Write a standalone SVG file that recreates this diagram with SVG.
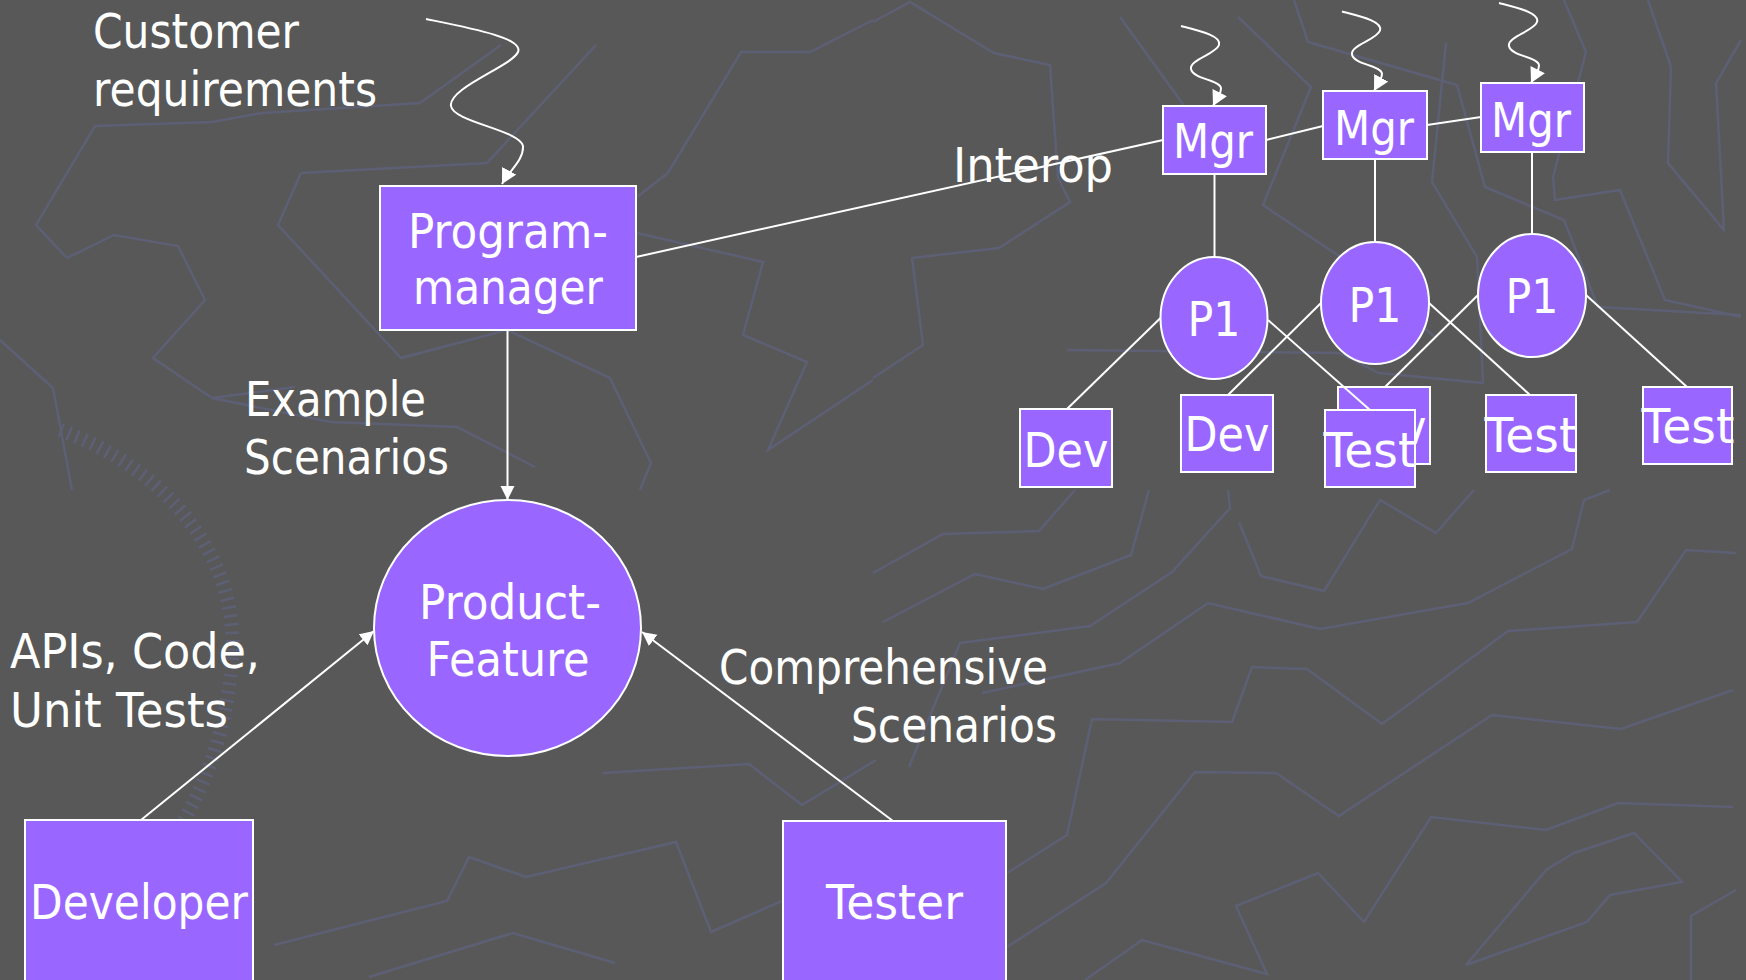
<svg xmlns="http://www.w3.org/2000/svg" width="1746" height="980" viewBox="0 0 1746 980">
<style>
.bg{fill:#585858}
.deco{fill:none;stroke:#5d6075;stroke-width:2.5;stroke-linejoin:miter}
.tick{fill:none;stroke:#5d6075;stroke-width:14;stroke-dasharray:2.5 6}
.box{fill:#9966FF;stroke:#FFFFFF;stroke-width:2}
.t{font-family:"DejaVu Sans","Verdana",sans-serif;font-size:48px;fill:#FFFFFF}
.m{text-anchor:middle}
.ln{fill:none;stroke:#FFFFFF;stroke-width:2}
</style>
<defs>
<marker id="ah" markerUnits="userSpaceOnUse" markerWidth="16" markerHeight="16" refX="14" refY="7" orient="auto">
<path d="M0,0 L14,7 L0,14 z" fill="#FFFFFF"/>
</marker>
<marker id="wh" markerUnits="userSpaceOnUse" markerWidth="18" markerHeight="18" refX="15" refY="8" orient="auto">
<path d="M0,0 L15,8 L0,16 z" fill="#FFFFFF"/>
</marker>
</defs>
<rect class="bg" x="0" y="0" width="1746" height="980"/>

<g id="background-pattern">
<polyline class="deco" points="67,258 36,225 95,126 212,122 262,113 420,103 501,45"/>
<polyline class="deco" points="67,258 114,235 178,246 205,300 153,358 212,398 295,387"/>
<polyline class="deco" points="301,173 487,163 596,45"/>
<polyline class="deco" points="301,173 278,225 401,358 507,330 610,378 651,463 640,490"/>
<polyline class="deco" points="873,20 810,52 741,52 668,173 637,197"/>
<polyline class="deco" points="637,233 763,262 743,335 807,362 768,450 873,380"/>
<polyline class="deco" points="0,340 53,388 72,490"/>
<polyline class="deco" points="212,398 331,422 457,427 535,467"/>
<polyline class="deco" points="873,22 910,2 994,53 1050,65 1058,178 1070,202 999,248 912,258 923,345 873,378"/>
<polyline class="deco" points="1120,17 1185,107"/>
<polyline class="deco" points="1238,17 1311,87 1263,205 1342,258 1435,337"/>
<polyline class="deco" points="1294,0 1308,42 1457,85 1485,187 1564,220 1598,307 1741,315"/>
<polyline class="deco" points="1446,43 1432,182 1477,257 1483,383 1379,373 1339,353 1067,350"/>
<polyline class="deco" points="1564,0 1586,52 1553,177 1555,200 1620,190 1665,300 1741,317"/>
<polyline class="deco" points="1648,0 1671,67 1668,163 1724,230 1716,83 1741,40"/>
<polyline class="deco" points="603,773 749,764 802,805 876,760"/>
<polyline class="deco" points="274,945 447,901 469,857 526,877 676,842 711,932 782,901"/>
<polyline class="deco" points="369,977 513,933 615,963"/>
<polyline class="deco" points="873,573 943,534 1039,531 1075,490"/>
<polyline class="deco" points="883,622 975,574 1043,589 1131,555 1149,490"/>
<polyline class="deco" points="909,767 960,643 1090,626 1172,572 1230,508 1228,490"/>
<polyline class="deco" points="1007,873 1067,835 1092,719 1232,722 1252,667 1307,669 1382,724 1508,631 1637,622 1686,550 1736,553"/>
<polyline class="deco" points="1007,947 1106,883 1195,772 1276,773 1339,816 1492,715 1621,729 1733,690"/>
<polyline class="deco" points="982,693 1120,663 1208,603 1320,629 1468,603 1572,549 1584,500 1610,490"/>
<polyline class="deco" points="1239,522 1261,576 1324,591 1380,500 1436,533 1474,490"/>
<polyline class="deco" points="1085,980 1142,940 1267,974 1236,906 1318,873 1364,922 1431,817 1546,830 1618,803 1733,807"/>
<polyline class="deco" points="1466,965 1546,870 1574,853 1634,833 1682,882 1610,895 1587,922 1466,965"/>
<polyline class="deco" points="1691,980 1691,916 1736,890"/>
<path class="tick" d="M60,430 C170,470 240,560 232,660 C226,740 200,800 160,860"/>
</g>

<g id="customer-requirements">
<text class="t" x="93" y="48" textLength="206" lengthAdjust="spacingAndGlyphs">Customer</text>
<text class="t" x="93" y="106" textLength="284" lengthAdjust="spacingAndGlyphs">requirements</text>
</g>

<g id="program-manager">
<rect class="box" x="380" y="186" width="256" height="144"/>
<text class="t m" x="508" y="248" textLength="200" lengthAdjust="spacingAndGlyphs">Program-</text>
<text class="t m" x="508" y="304" textLength="190" lengthAdjust="spacingAndGlyphs">manager</text>
</g>

<g id="example-scenarios">
<text class="t" x="245" y="416" textLength="181" lengthAdjust="spacingAndGlyphs">Example</text>
<text class="t" x="244" y="474" textLength="205" lengthAdjust="spacingAndGlyphs">Scenarios</text>
</g>

<g id="product-feature">
<ellipse class="box" cx="507.5" cy="628" rx="133.5" ry="128"/>
<text class="t m" x="510" y="619" textLength="182" lengthAdjust="spacingAndGlyphs">Product-</text>
<text class="t m" x="508" y="676" textLength="163" lengthAdjust="spacingAndGlyphs">Feature</text>
</g>

<g id="apis-label">
<text class="t" x="10" y="668" textLength="250" lengthAdjust="spacingAndGlyphs">APIs, Code,</text>
<text class="t" x="10" y="727" textLength="218" lengthAdjust="spacingAndGlyphs">Unit Tests</text>
</g>

<g id="comprehensive-label">
<text class="t" x="719" y="684" textLength="329" lengthAdjust="spacingAndGlyphs">Comprehensive</text>
<text class="t" x="851" y="742" textLength="206" lengthAdjust="spacingAndGlyphs">Scenarios</text>
</g>

<g id="developer">
<rect class="box" x="25" y="820" width="228" height="190"/>
<text class="t" x="30" y="919" textLength="218" lengthAdjust="spacingAndGlyphs">Developer</text>
</g>

<g id="tester">
<rect class="box" x="783" y="821" width="223" height="190"/>
<text class="t" x="826" y="919" textLength="137" lengthAdjust="spacingAndGlyphs">Tester</text>
</g>

<g id="interop-label">
<text class="t" x="953" y="182" textLength="160" lengthAdjust="spacingAndGlyphs">Interop</text>
</g>

<g id="mgr1">
<rect class="box" x="1163" y="106" width="103" height="68"/>
<text class="t m" x="1213" y="158" textLength="80" lengthAdjust="spacingAndGlyphs">Mgr</text>
</g>
<g id="mgr2">
<rect class="box" x="1323" y="91" width="104" height="68"/>
<text class="t m" x="1374" y="145" textLength="80" lengthAdjust="spacingAndGlyphs">Mgr</text>
</g>
<g id="mgr3">
<rect class="box" x="1481" y="83" width="103" height="69"/>
<text class="t m" x="1531" y="137" textLength="80" lengthAdjust="spacingAndGlyphs">Mgr</text>
</g>

<g id="p1a">
<ellipse class="box" cx="1214" cy="318" rx="53.5" ry="61"/>
<text class="t m" x="1214" y="336" textLength="53" lengthAdjust="spacingAndGlyphs">P1</text>
</g>
<g id="p1b">
<ellipse class="box" cx="1375" cy="303" rx="54" ry="61"/>
<text class="t m" x="1375" y="322" textLength="53" lengthAdjust="spacingAndGlyphs">P1</text>
</g>
<g id="p1c">
<ellipse class="box" cx="1532" cy="295.5" rx="54" ry="61.5"/>
<text class="t m" x="1532" y="313" textLength="53" lengthAdjust="spacingAndGlyphs">P1</text>
</g>

<g id="dev1">
<rect class="box" x="1020" y="409" width="92" height="78"/>
<text class="t m" x="1066" y="467" textLength="85" lengthAdjust="spacingAndGlyphs">Dev</text>
</g>
<g id="dev2">
<rect class="box" x="1181" y="395" width="92" height="77"/>
<text class="t m" x="1227" y="451" textLength="85" lengthAdjust="spacingAndGlyphs">Dev</text>
</g>
<g id="dev3">
<rect class="box" x="1338" y="387" width="92" height="77"/>
<text class="t m" x="1384" y="444" textLength="85" lengthAdjust="spacingAndGlyphs">Dev</text>
</g>
<g id="test2">
<rect class="box" x="1325" y="410" width="90" height="77"/>
<text class="t m" x="1370" y="467" textLength="93" lengthAdjust="spacingAndGlyphs">Test</text>
</g>
<g id="test3">
<rect class="box" x="1486" y="395" width="90" height="77"/>
<text class="t m" x="1531" y="452" textLength="93" lengthAdjust="spacingAndGlyphs">Test</text>
</g>
<g id="test4">
<rect class="box" x="1643" y="387" width="89" height="77"/>
<text class="t m" x="1688" y="443" textLength="93" lengthAdjust="spacingAndGlyphs">Test</text>
</g>

<g id="connectors">
<path class="ln" marker-end="url(#wh)" d="M426,19 C470,28 524,38 518,52 C512,66 448,88 451,106 C453,122 520,130 523,146 C524,160 509,171 502,184"/>
<path class="ln" marker-end="url(#wh)" d="M1181,26 C1200,31 1222,36 1219,45 C1216,54 1189,60 1191,69 C1193,79 1220,80 1221,88 C1221,95 1216,100 1213,106"/>
<path class="ln" marker-end="url(#wh)" d="M1342,11.5 C1361,16.5 1383,21.5 1380,30.5 C1377,39.5 1350,45.5 1352,54.5 C1354,64.5 1381,65.5 1382,73.5 C1382,80.5 1377,85.5 1374,91"/>
<path class="ln" marker-end="url(#wh)" d="M1499,3 C1518,8 1540,13 1537,22 C1534,31 1507,37 1509,46 C1511,56 1538,57 1539,65 C1539,72 1534,77 1531,83"/>
<line class="ln" x1="507.5" y1="330" x2="507.5" y2="500" marker-end="url(#ah)"/>
<line class="ln" x1="141" y1="820" x2="374" y2="631" marker-end="url(#ah)"/>
<line class="ln" x1="893" y1="821" x2="642" y2="632" marker-end="url(#ah)"/>
<line class="ln" x1="636" y1="257" x2="1163" y2="140"/>
<line class="ln" x1="1266" y1="140" x2="1323" y2="126"/>
<line class="ln" x1="1427" y1="125" x2="1481" y2="117"/>
<line class="ln" x1="1214.5" y1="174" x2="1214.5" y2="257"/>
<line class="ln" x1="1375" y1="159" x2="1375" y2="242"/>
<line class="ln" x1="1532" y1="152" x2="1532" y2="234"/>
<line class="ln" x1="1160.5" y1="318" x2="1067" y2="409"/>
<line class="ln" x1="1268" y1="320" x2="1370" y2="410"/>
<line class="ln" x1="1321" y1="303" x2="1228" y2="395"/>
<line class="ln" x1="1429" y1="303" x2="1530" y2="395"/>
<line class="ln" x1="1478" y1="295" x2="1385" y2="387"/>
<line class="ln" x1="1586" y1="295" x2="1687" y2="387"/>
</g>
</svg>
